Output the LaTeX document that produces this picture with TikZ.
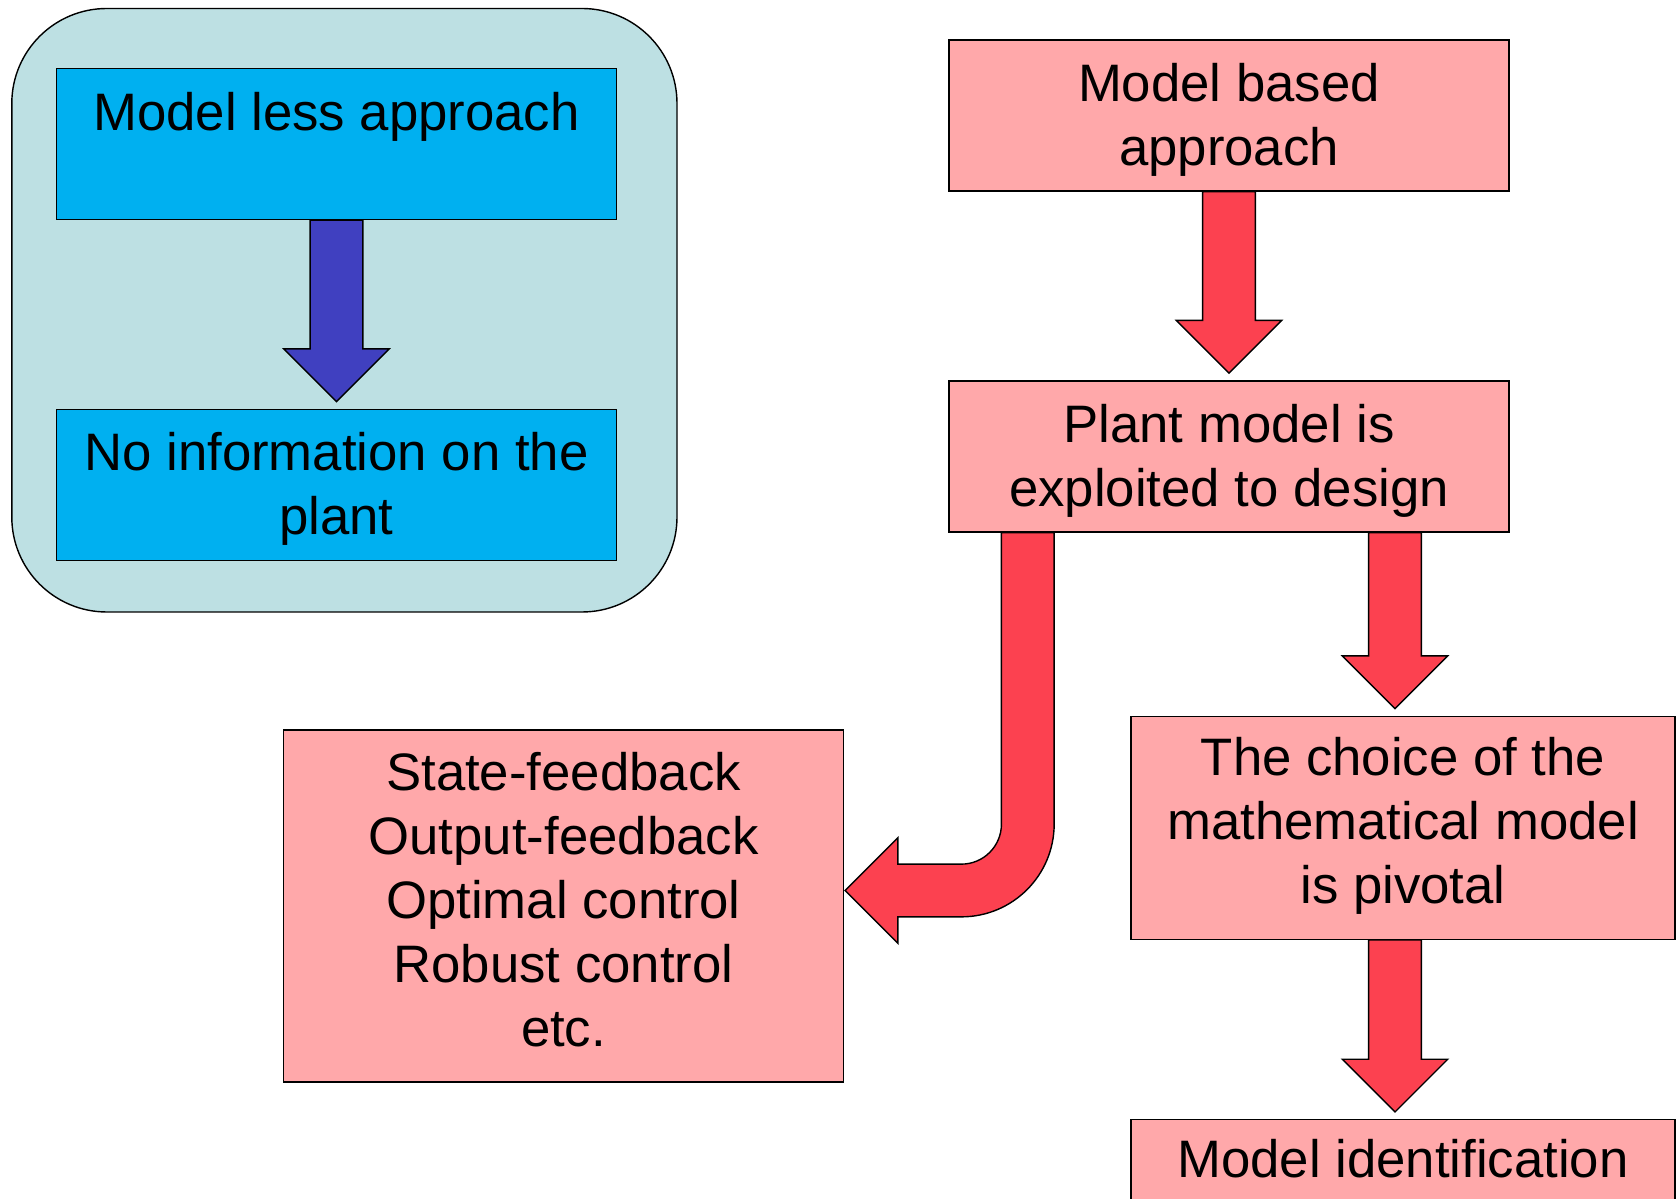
\documentclass[tikz,border=0pt]{standalone}
\usepackage{fontspec}
\setmainfont{Liberation Sans}
\usetikzlibrary{positioning,calc}

\definecolor{framebg}{RGB}{189,224,227}
\definecolor{lessblue}{RGB}{0,176,240}
\definecolor{lessarrow}{RGB}{64,64,192}
\definecolor{basedpink}{RGB}{255,168,170}
\definecolor{basedarrow}{RGB}{252,65,80}

\begin{document}
\begin{tikzpicture}[line width=0.8pt,
  font=\fontsize{30}{36.3}\selectfont,
  shaft shift/.initial=0pt,
  main box/.style={draw, rectangle, align=center, inner sep=0pt,
    minimum width=11.2cm, minimum height=3.02cm},
  less box/.style={main box, fill=lessblue},
  based box/.style={main box, fill=basedpink},
  block arrow/.style={draw=black, fill=#1, to path={
    let \p1=(\tikztostart.south),
        \p2=($(\tikztotarget.north)+(\pgfkeysvalueof{/tikz/shaft shift},0)$) in
    (\x2-15pt,\y1) -- (\x2-15pt,\y2+34pt) -- (\x2-30pt,\y2+34pt) -- (\x2,\y2+4pt)
    -- (\x2+30pt,\y2+34pt) -- (\x2+15pt,\y2+34pt) -- (\x2+15pt,\y1) -- cycle}},
  bent arrow/.style={draw=black, fill=#1, to path={
    let \p1=($(\tikztostart.south west)+(1.59cm,0)$),
        \p2=($(\tikztotarget.east)+(0.02cm,0.31cm)$) in
    (\x1+15pt,\y1) -- (\x1+15pt,\y2+37.8pt)
    arc[start angle=0, end angle=-90, radius=52.8pt]
    -- (\x2+30pt,\y2-15pt) -- (\x2+30pt,\y2-30pt) -- (\x2,\y2)
    -- (\x2+30pt,\y2+30pt) -- (\x2+30pt,\y2+15pt) -- (\x1-37.8pt,\y2+15pt)
    arc[start angle=-90, end angle=0, radius=22.8pt]
    -- (\x1-15pt,\y1) -- cycle}}]
  \useasboundingbox (0,0) rectangle (33.56,23.98);
  \clip (0,0) rectangle (33.56,23.98);
  % model less side
  \draw[fill=framebg, rounded corners=1.9cm] (0.236,11.74) rectangle (13.54,23.81);
  \node[less box, text depth=1.2pt] (model_less) at (6.73,21.10) {Model less approach\\~};
  \node[less box, text depth=1.5pt, below=3.77cm of model_less] (no_info) {No information on the\\plant};
  % model based side
  \node[based box, text depth=1.5pt] (model_based) at (24.58,21.67) {Model based\\approach};
  \node[based box, text depth=1.5pt, below=3.77cm of model_based] (plant_model) {Plant model is\\exploited to design};
  \node[based box, minimum width=10.88cm, minimum height=4.46cm, text depth=8.7pt,
    below=3.66cm of plant_model, xshift=3.48cm] (choice) {The choice of the\\mathematical model\\is pivotal};
  \node[based box, minimum width=10.88cm, text depth=6pt, below=3.58cm of choice] (ident) {Model identification\\~};
  \node[based box, minimum height=7.04cm, text depth=7.5pt] (control) at (11.27,5.86)
    {State-feedback\\Output-feedback\\Optimal control\\Robust control\\etc.};
  \path
    (model_less) edge[block arrow=lessarrow] (no_info)
    (model_based) edge[block arrow=basedarrow] (plant_model)
    (plant_model) edge[block arrow=basedarrow, shaft shift=-0.16cm] (choice)
    (choice) edge[block arrow=basedarrow, shaft shift=-0.16cm] (ident)
    (plant_model) edge[bent arrow=basedarrow] (control);
\end{tikzpicture}
\end{document}
